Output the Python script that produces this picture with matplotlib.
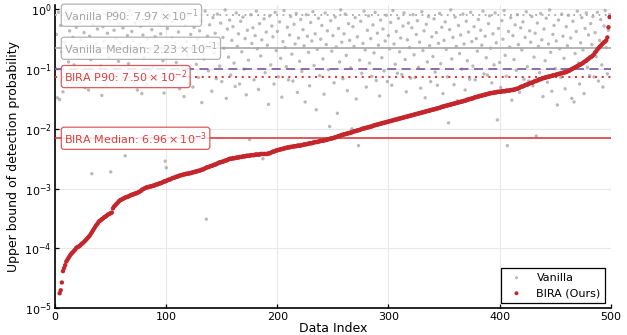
import numpy as np
import matplotlib
matplotlib.use("Agg")
import matplotlib.pyplot as plt
from matplotlib.ticker import LogLocator, NullLocator

# log10 of the upper bound, one value per data index
vanilla_log = [
    -0.98, -0.42, -1.48, -0.05, -1.51, -0.27, -0.71, -1.38, -0.55, -0.18, -0.03, -1.26, -0.88, -0.36, -0.61, -1.22, -0.47, -0.93, -0.14, -0.30,
    -0.76, -1.13, -0.22, -0.51, -0.08, -1.02, -0.39, -1.31, -0.62, -0.17, -1.35, -0.45, -0.84, -2.75, -0.26, -0.01, -1.12, -0.58, -0.33, -0.69,
    -0.12, -0.95, -1.44, -0.29, -0.53, -0.07, -1.27, -0.40, -0.79, -0.20, -2.72, -0.64, -1.09, -0.35, -0.04, -0.49, -1.08, -0.87, -0.24, -0.57,
    -1.19, -0.31, -0.66, -2.45, -0.15, -0.44, -0.91, -0.02, -1.19, -0.37, -0.52, -1.05, -0.23, -0.74, -1.35, -0.09, -0.59, -0.28, -1.41, -0.43,
    -0.81, -0.19, -1.26, -0.50, -0.06, -0.67, -1.03, -0.34, -0.97, -0.13, -0.46, -1.17, -0.60, -0.25, -1.22, -0.41, -0.02, -0.86, -1.40, -2.54,
    -2.65, -0.32, -0.70, -0.11, -1.08, -0.48, -0.21, -1.11, -0.56, -0.89, -0.04, -0.38, -1.33, -0.63, -0.16, -0.99, -1.46, -0.27, -0.54, -0.77,
    -0.10, -1.24, -0.42, -0.68, -1.30, -0.30, -0.07, -0.92, -0.50, -1.14, -0.36, -0.19, -1.56, -0.61, -0.83, -0.03, -3.51, -0.45, -1.03, -0.26,
    -0.55, -1.37, -0.14, -0.73, -0.40, -1.16, -0.08, -0.58, -0.95, -0.23, -1.21, -0.47, -0.65, -0.01, -1.49, -0.33, -0.80, -0.18, -1.10, -0.52,
    -0.29, -0.90, -1.29, -0.06, -0.62, -0.41, -1.25, -0.20, -0.71, -0.13, -1.00, -0.49, -1.43, -0.35, -0.85, -2.18, -0.09, -0.57, -0.31, -1.18,
    -0.44, -0.03, -0.66, -1.34, -0.24, -0.78, -0.51, -2.50, -0.16, -1.06, -0.38, -0.60, -1.59, -0.11, -0.93, -0.28, -0.46, -1.25, -0.05, -0.69,
    -0.37, -1.13, -0.21, -0.82, -1.47, -0.54, -0.02, -0.64, -0.96, -0.30, -1.18, -0.43, -0.12, -0.75, -1.20, -0.25, -0.58, -0.07, -1.39, -0.48,
    -0.87, -0.17, -1.04, -0.34, -0.61, -1.55, -0.09, -0.45, -0.72, -1.28, -0.22, -0.53, -0.04, -0.94, -0.41, -1.68, -0.67, -0.15, -1.11, -0.50,
    -0.27, -0.83, -1.42, -0.06, -0.59, -0.36, -1.01, -1.96, -0.19, -0.70, -0.44, -1.23, -0.13, -0.63, -1.74, -0.32, -0.88, -0.01, -0.55, -1.16,
    -0.41, -0.08, -0.77, -1.36, -0.24, -0.52, -0.98, -2.00, -0.29, -0.62, -0.14, -1.50, -0.46, -2.28, -0.85, -0.20, -1.07, -0.57, -0.03, -0.68,
    -1.30, -0.35, -0.11, -0.90, -0.49, -1.12, -0.26, -0.73, -0.05, -1.19, -0.40, -0.60, -1.45, -0.18, -0.81, -0.33, -1.03, -0.53, -0.10, -1.21,
    -0.44, -0.66, -0.22, -1.27, -0.02, -0.58, -0.92, -0.37, -1.07, -0.15, -0.71, -0.48, -1.09, -0.28, -0.06, -0.84, -1.38, -0.51, -0.23, -0.64,
    -1.15, -0.31, -0.09, -0.76, -1.14, -0.42, -0.19, -0.97, -0.55, -1.32, -0.04, -0.69, -0.36, -1.48, -0.25, -0.88, -0.12, -0.61, -1.21, -0.46,
    -0.79, -0.16, -1.05, -0.39, -1.27, -0.57, -0.07, -0.91, -0.30, -1.41, -0.52, -0.21, -0.67, -1.13, -1.90, -0.34, -0.01, -0.83, -0.47, -1.26,
    -0.13, -0.62, -1.53, -0.27, -0.74, -0.43, -1.00, -0.08, -0.58, -1.35, -0.20, -0.86, -0.38, -1.17, -0.05, -0.54, -0.95, -0.29, -1.18, -0.49,
    -0.70, -0.17, -1.44, -0.35, -0.60, -0.03, -1.08, -0.45, -0.81, -1.10, -0.24, -0.11, -0.65, -1.23, -0.41, -0.93, -0.06, -0.56, -1.85, -0.32,
    -0.89, -1.31, -0.19, -0.50, -0.02, -0.77, -1.12, -2.28, -0.37, -0.63, -0.14, -1.52, -0.44, -0.84, -0.26, -1.02, -0.09, -0.59, -1.39, -0.31,
    -0.68, -0.21, -1.17, -0.47, -0.04, -0.96, -1.20, -0.36, -0.55, -0.12, -1.28, -0.80, -0.40, -2.12, -0.23, -0.62, -1.06, -0.07, -0.51, -1.46,
    -0.33, -0.86, -0.15, -1.22, -0.58, -0.01, -0.72, -1.37, -0.42, -0.27, -0.99, -0.53, -1.60, -0.18, -0.66, -1.14, -0.08, -0.45, -0.82, -1.33,
    -0.29, -0.61, -0.10, -1.04, -0.48, -1.49, -0.20, -1.55, -0.74, -0.37, -0.03, -0.90, -1.25, -0.56, -0.14, -0.68, -1.41, -0.32, -0.06, -0.97,
    -0.43, -1.11, -0.24, -0.59, -0.12, -1.13, -0.39, -0.79, -0.05, -1.20, -0.52, -0.17, -0.93, -1.30, -0.28, -0.02, -0.64, -1.08, -0.35, -0.09,
]

bira_log = [
    -5.60, -5.45, -5.30, -5.15, -4.75, -4.70, -4.57, -4.38, -4.33, -4.28, -4.22, -4.19, -4.16, -4.13, -4.10, -4.08, -4.06, -4.04, -4.02, -3.99,
    -3.98, -3.97, -3.96, -3.94, -3.92, -3.91, -3.89, -3.87, -3.85, -3.83, -3.81, -3.79, -3.76, -3.73, -3.70, -3.67, -3.64, -3.61, -3.59, -3.56,
    -3.54, -3.53, -3.51, -3.50, -3.48, -3.47, -3.46, -3.44, -3.43, -3.42, -3.41, -3.40, -3.33, -3.30, -3.28, -3.26, -3.24, -3.22, -3.20, -3.19,
    -3.18, -3.17, -3.16, -3.15, -3.14, -3.14, -3.13, -3.12, -3.11, -3.10, -3.10, -3.09, -3.08, -3.08, -3.07, -3.06, -3.05, -3.04, -3.02, -3.01,
    -3.00, -2.99, -2.98, -2.98, -2.97, -2.97, -2.96, -2.96, -2.95, -2.95, -2.94, -2.93, -2.93, -2.92, -2.91, -2.91, -2.90, -2.89, -2.88, -2.88,
    -2.87, -2.86, -2.85, -2.85, -2.84, -2.83, -2.82, -2.82, -2.81, -2.80, -2.80, -2.79, -2.78, -2.78, -2.77, -2.77, -2.76, -2.76, -2.75, -2.75,
    -2.75, -2.74, -2.74, -2.73, -2.73, -2.72, -2.72, -2.71, -2.71, -2.70, -2.70, -2.69, -2.68, -2.68, -2.67, -2.66, -2.65, -2.64, -2.64, -2.63,
    -2.62, -2.62, -2.61, -2.60, -2.60, -2.59, -2.58, -2.57, -2.56, -2.56, -2.55, -2.55, -2.54, -2.53, -2.53, -2.52, -2.51, -2.50, -2.50, -2.50,
    -2.49, -2.49, -2.49, -2.48, -2.48, -2.48, -2.47, -2.47, -2.47, -2.46, -2.46, -2.46, -2.45, -2.45, -2.45, -2.45, -2.44, -2.44, -2.44, -2.44,
    -2.43, -2.43, -2.43, -2.43, -2.43, -2.42, -2.42, -2.42, -2.42, -2.42, -2.42, -2.42, -2.41, -2.41, -2.40, -2.39, -2.38, -2.38, -2.37, -2.36,
    -2.36, -2.35, -2.35, -2.34, -2.34, -2.33, -2.33, -2.32, -2.32, -2.31, -2.31, -2.31, -2.30, -2.30, -2.30, -2.29, -2.29, -2.29, -2.28, -2.28,
    -2.28, -2.28, -2.27, -2.27, -2.26, -2.26, -2.26, -2.25, -2.25, -2.24, -2.24, -2.24, -2.23, -2.23, -2.22, -2.22, -2.22, -2.21, -2.21, -2.20,
    -2.20, -2.20, -2.19, -2.19, -2.18, -2.18, -2.17, -2.17, -2.16, -2.16, -2.155, -2.15, -2.14, -2.14, -2.13, -2.12, -2.12, -2.11, -2.10, -2.10,
    -2.09, -2.09, -2.08, -2.08, -2.07, -2.07, -2.06, -2.06, -2.05, -2.04, -2.04, -2.03, -2.03, -2.02, -2.02, -2.01, -2.00, -2.00, -1.99, -1.99,
    -1.98, -1.98, -1.97, -1.97, -1.96, -1.96, -1.95, -1.94, -1.94, -1.93, -1.93, -1.92, -1.92, -1.91, -1.91, -1.90, -1.90, -1.89, -1.89, -1.88,
    -1.88, -1.87, -1.87, -1.86, -1.86, -1.85, -1.85, -1.84, -1.84, -1.83, -1.83, -1.82, -1.82, -1.81, -1.81, -1.80, -1.80, -1.79, -1.79, -1.78,
    -1.78, -1.77, -1.77, -1.76, -1.76, -1.75, -1.75, -1.74, -1.74, -1.73, -1.73, -1.72, -1.72, -1.71, -1.71, -1.70, -1.70, -1.69, -1.69, -1.68,
    -1.68, -1.67, -1.67, -1.66, -1.66, -1.65, -1.65, -1.64, -1.63, -1.63, -1.62, -1.62, -1.61, -1.61, -1.60, -1.60, -1.59, -1.59, -1.58, -1.58,
    -1.57, -1.57, -1.56, -1.56, -1.55, -1.55, -1.54, -1.54, -1.53, -1.53, -1.52, -1.51, -1.51, -1.50, -1.50, -1.49, -1.49, -1.48, -1.47, -1.47,
    -1.46, -1.46, -1.45, -1.45, -1.44, -1.44, -1.43, -1.43, -1.42, -1.42, -1.41, -1.41, -1.40, -1.40, -1.40, -1.39, -1.39, -1.39, -1.38, -1.38,
    -1.38, -1.38, -1.37, -1.37, -1.37, -1.37, -1.36, -1.36, -1.36, -1.36, -1.35, -1.35, -1.35, -1.34, -1.34, -1.33, -1.33, -1.32, -1.31, -1.30,
    -1.29, -1.29, -1.28, -1.27, -1.26, -1.26, -1.25, -1.24, -1.23, -1.23, -1.22, -1.21, -1.20, -1.20, -1.19, -1.18, -1.17, -1.17, -1.16, -1.15,
    -1.15, -1.14, -1.14, -1.13, -1.13, -1.12, -1.12, -1.11, -1.11, -1.10, -1.10, -1.09, -1.09, -1.08, -1.08, -1.07, -1.07, -1.06, -1.06, -1.05,
    -1.05, -1.04, -1.03, -1.02, -1.01, -1.00, -0.99, -0.98, -0.97, -0.96, -0.95, -0.94, -0.93, -0.92, -0.91, -0.90, -0.88, -0.87, -0.86, -0.84,
    -0.83, -0.81, -0.80, -0.79, -0.77, -0.75, -0.72, -0.70, -0.67, -0.65, -0.63, -0.61, -0.59, -0.57, -0.55, -0.54, -0.52, -0.47, -0.30, -0.13,
]

# reference lines
vanilla_p90 = 7.97e-1
vanilla_median = 2.23e-1
bira_p90 = 7.50e-2
bira_median = 6.96e-3
threshold = 0.1

vanilla = 10.0 ** np.array(vanilla_log)
bira = 10.0 ** np.array(bira_log)
idx = np.arange(len(bira))

GRAY = "#a8a8a8"
RED = "#c4262b"
LRED = "#dc3d3d"
PURPLE = "#8263a9"

fig = plt.figure(figsize=(6.27, 3.35), dpi=100)
ax = fig.add_axes([0.088, 0.080, 0.886, 0.905])

ax.scatter(idx, vanilla, s=6, color="#a3a3a3", alpha=0.75, edgecolors="none", zorder=2, label="Vanilla")
ax.scatter(idx, bira, s=10, color=RED, edgecolors="none", zorder=4, label="BIRA (Ours)")

ax.axhline(vanilla_p90, color=GRAY, ls=(0, (1, 2.5)), lw=1.3, zorder=3)
ax.axhline(vanilla_median, color=GRAY, ls="-", lw=1.2, zorder=3)
ax.axhline(threshold, color=PURPLE, ls=(0, (5, 3)), lw=1.3, zorder=3)
ax.axhline(bira_p90, color=LRED, ls=(0, (1, 2.2)), lw=1.5, zorder=3)
ax.axhline(bira_median, color=LRED, ls="-", lw=1.2, zorder=3)

def tag(y, txt, c):
    ax.text(8, y, txt, color=c, fontsize=8, va="center", ha="left", zorder=5,
            bbox=dict(boxstyle="round,pad=0.25", fc="white", ec=c, alpha=0.85, lw=0.9))

tag(vanilla_p90, r"Vanilla P90: $7.97\times10^{-1}$", "#a6a6a6")
tag(vanilla_median, r"Vanilla Median: $2.23\times10^{-1}$", "#a6a6a6")
tag(bira_p90, r"BIRA P90: $7.50\times10^{-2}$", LRED)
tag(bira_median, r"BIRA Median: $6.96\times10^{-3}$", LRED)

ax.set_yscale("log")
ax.set_ylim(1e-5, 1.18)
ax.set_xlim(0, 500)
ax.set_xticks([0, 100, 200, 300, 400, 500])
ax.yaxis.set_major_locator(LogLocator(base=10, numticks=10))
ax.yaxis.set_minor_locator(NullLocator())

ax.grid(True, color="#e8e8e8", lw=0.8, zorder=0)
ax.set_axisbelow(True)
for s in ["top", "right"]:
    ax.spines[s].set_visible(False)
for s in ["left", "bottom"]:
    ax.spines[s].set_linewidth(1.2)
ax.tick_params(direction="in", length=3, labelsize=8, width=0.9, pad=2.5)

ax.set_xlabel("Data Index", fontsize=9, labelpad=0)
ax.set_ylabel("Upper bound of detection probability", fontsize=9, labelpad=3)

leg = ax.legend(loc="lower right", fontsize=8, fancybox=False, framealpha=1,
                edgecolor="black", markerscale=0.9, borderaxespad=0.5)
leg.get_frame().set_linewidth(0.9)

fig.savefig("out.png", dpi=100)
